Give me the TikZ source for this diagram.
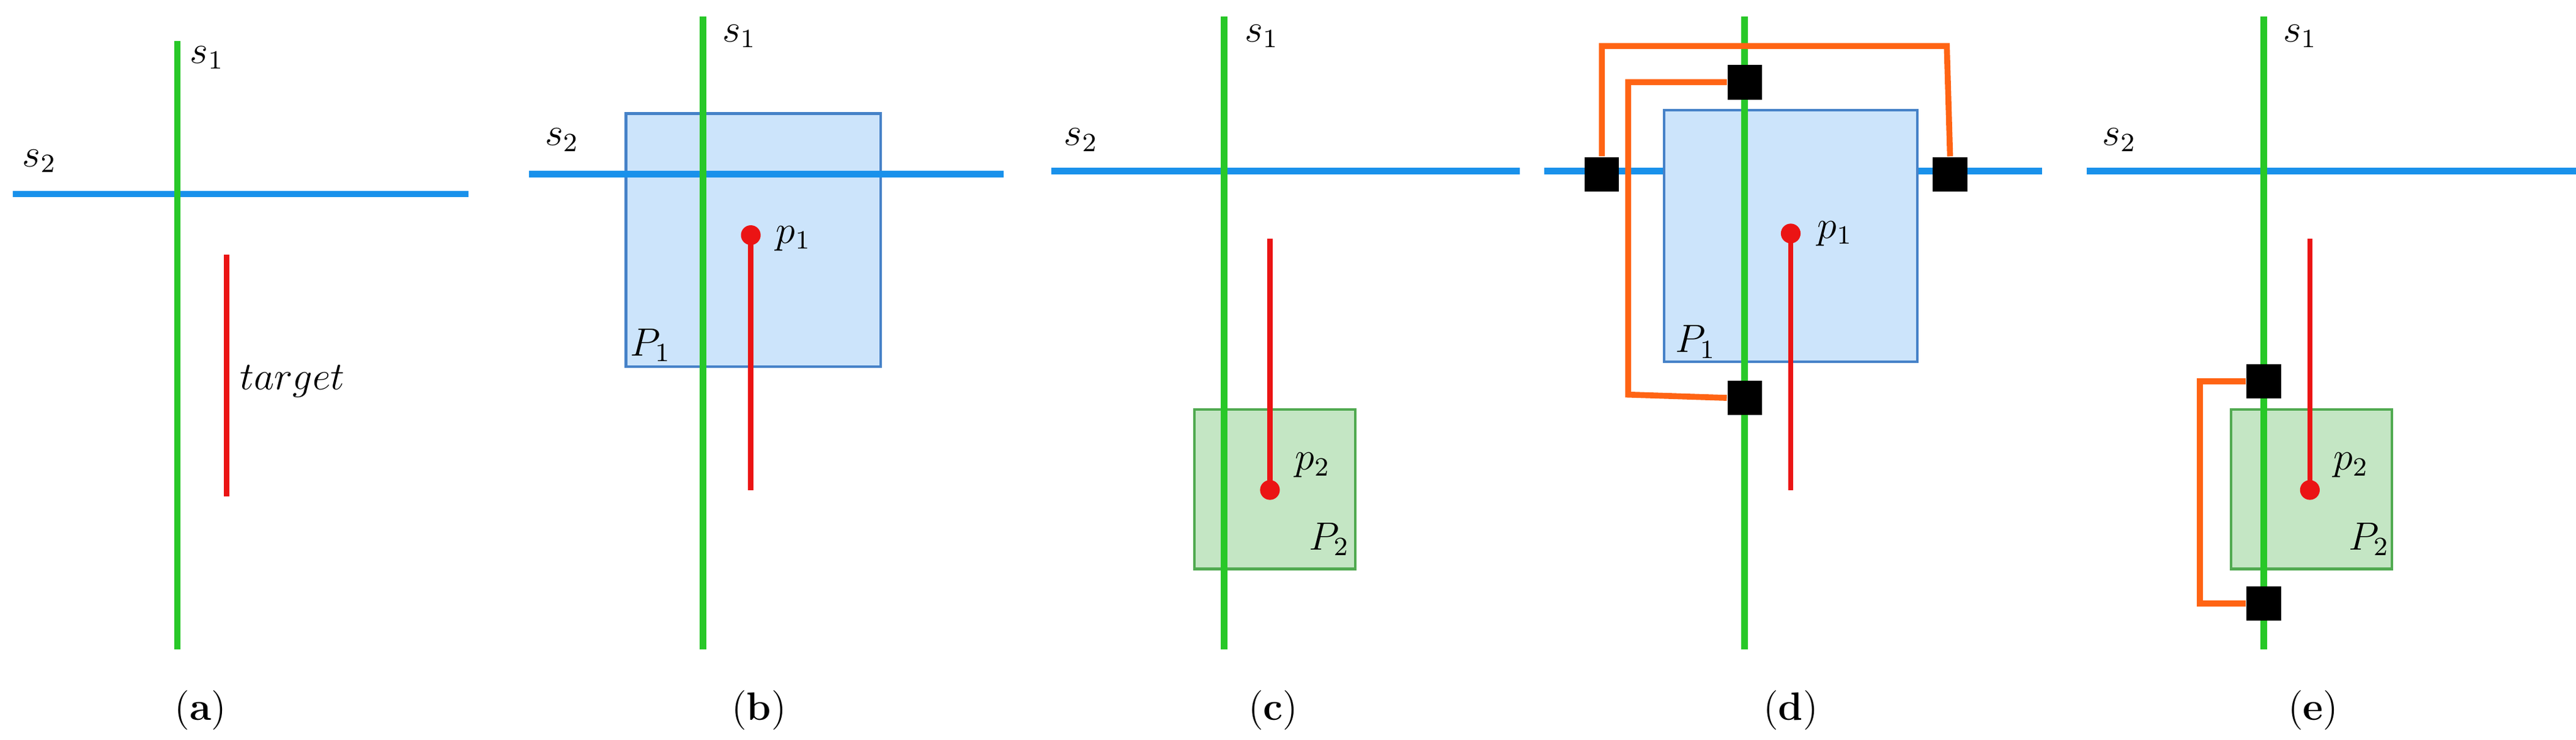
\documentclass[tikz,border=0pt]{standalone}
\usepackage{amsmath}
\begin{document}
\begin{tikzpicture}[x=0.5pt,y=-0.5pt,
  gl/.style={draw={rgb,255:red,40;green,200;blue,40},line width=2pt},
  bl/.style={draw={rgb,255:red,25;green,145;blue,235},line width=2pt},
  rl/.style={draw={rgb,255:red,235;green,20;blue,20},line width=1.6pt},
  ol/.style={draw={rgb,255:red,255;green,100;blue,20},line width=1.8pt},
  dot/.style={circle,fill={rgb,255:red,235;green,20;blue,20},inner sep=0pt,minimum size=6pt},
  sq/.style={rectangle,fill=black,inner sep=0pt,minimum size=10.5pt},
  brect/.style={draw={rgb,255:red,70;green,130;blue,200},fill={rgb,255:red,204;green,228;blue,251},line width=0.8pt},
  grect/.style={draw={rgb,255:red,80;green,170;blue,80},fill={rgb,255:red,196;green,230;blue,196},line width=0.8pt},
  lab/.style={font=\large,inner sep=0pt},
  captxt/.style={font=\large,inner sep=0pt}]
\useasboundingbox (0,0) rectangle (1568,450);
% (a)
\draw[bl] (8,118) coordinate (a2l) -- (285,118) coordinate (a2r);
\draw[gl] (108,25) coordinate (a1t) -- (108,395) coordinate (a1b);
\draw[rl] (138,155) coordinate (att) -- (138,302) coordinate (atb);
\node[lab] (as1) at (126,35) {$s_1$};
\node[lab] (as2) at (24,98) {$s_2$};
\node[lab] (atg) at (178,232) {$target$};
\node[captxt] (ca) at (122,432) {(\textbf{a})};
% (b)
\draw[brect] (381,69) rectangle (536,223);
\draw[bl] (322,106) -- (611,106);
\draw[gl] (428,10) -- (428,395);
\draw[rl] (457,143) -- (457,298);
\node[dot] (bp1) at (457,143) {};
\node[lab] (bs1) at (450,22) {$s_1$};
\node[lab] (bs2) at (342,85) {$s_2$};
\node[lab] (bp1l) at (483,145) {$p_1$};
\node[lab] (bP1) at (396,210) {$P_1$};
\node[captxt] (cb) at (462,432) {(\textbf{b})};
% (c)
\draw[bl] (640,104) -- (925,104);
\draw[grect] (727,249) rectangle (825,346);
\draw[gl] (745,10) -- (745,395);
\draw[rl] (773,145) -- (773,298);
\node[dot] (cp2) at (773,298) {};
\node[lab] (cs1) at (768,22) {$s_1$};
\node[lab] (cs2) at (658,85) {$s_2$};
\node[lab] (cp2l) at (799,283) {$p_2$};
\node[lab] (cP2) at (809,328) {$P_2$};
\node[captxt] (cc) at (775,432) {(\textbf{c})};
% (d)
\draw[bl] (940,104) -- (1243,104);
\draw[brect] (1013,67) rectangle (1167,220);
\draw[gl] (1062,10) -- (1062,395);
\draw[rl] (1090,142) -- (1090,298);
\node[dot] (dp1) at (1090,142) {};
\node[lab] (dp1l) at (1117,142) {$p_1$};
\node[lab] (dP1) at (1032,208) {$P_1$};
\node[sq] (dq1) at (1062,50) {};
\node[sq] (dq2) at (975,106) {};
\node[sq] (dq3) at (1187,106) {};
\node[sq] (dq4) at (1062,242) {};
\draw[ol] (dq2.north) |- (1185,28) -- (dq3.north);
\draw[ol] (dq1.west) -| (991,240) -- (dq4.west);
\node[captxt] (cd) at (1090,432) {(\textbf{d})};
% (e)
\draw[bl] (1270,104) -- (1568,104);
\draw[grect] (1358,249) rectangle (1456,346);
\draw[gl] (1378,10) -- (1378,395);
\draw[rl] (1406,145) -- (1406,298);
\node[dot] (ep2) at (1406,298) {};
\node[sq] (eq1) at (1378,232) {};
\node[sq] (eq2) at (1378,367) {};
\draw[ol] (eq1.west) -| (1339,367) -- (eq2.west);
\node[lab] (es1) at (1400,22) {$s_1$};
\node[lab] (es2) at (1290,85) {$s_2$};
\node[lab] (ep2l) at (1431,283) {$p_2$};
\node[lab] (eP2) at (1442,328) {$P_2$};
\node[captxt] (ce) at (1408,432) {(\textbf{e})};
\end{tikzpicture}
\end{document}
